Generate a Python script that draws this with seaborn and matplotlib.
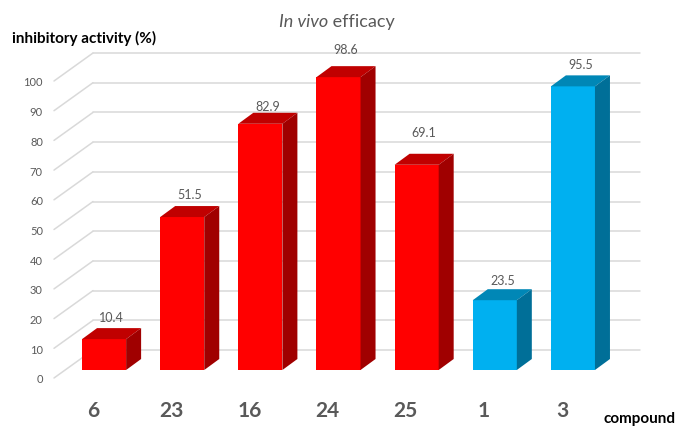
import matplotlib
matplotlib.use("Agg")
import matplotlib.pyplot as plt
import seaborn as sns
import pandas as pd
from matplotlib.patches import Polygon

# Data
compounds = ["6", "23", "16", "24", "25", "1", "3"]
activity = [10.4, 51.5, 82.9, 98.6, 69.1, 23.5, 95.5]
group = ["new", "new", "new", "new", "new", "ref", "ref"]
y_ticks = list(range(0, 101, 10))

# Styling: face colours for the pseudo-3D boxes, value-label lift (pixels)
front_col = {"new": "#FF0000", "ref": "#00B0F0"}
top_col = {"new": "#C00000", "ref": "#0087B6"}
side_col = {"new": "#A00000", "ref": "#006F98"}
label_lift = [11, 12, 7, 17, 22, 9, 11]
grid_col = "#D9D9D9"
text_gray = "#595959"

sns.set_theme(style="white")
plt.rcParams["font.family"] = ["Lato", "DejaVu Sans"]

W, H = 677, 427
fig = plt.figure(figsize=(W / 100, H / 100), dpi=100)
left_px, right_px, base_px, top_px = 54, 601, 379, 82
ax = fig.add_axes([left_px / W, 1 - base_px / H,
                   (right_px - left_px) / W, (base_px - top_px) / H])

df = pd.DataFrame({"compound": compounds, "activity": activity, "group": group})
sns.barplot(data=df, x="compound", y="activity", hue="group", palette=front_col,
            width=0.564, dodge=False, legend=False, saturation=1, ax=ax, zorder=3)

ax.set_xlim(-0.5, 6.5)
ax.set_ylim(0, 100)

# pixel -> data unit conversion for depth offsets
ux = (right_px - left_px) / 7.0
uy = (base_px - top_px) / 100.0

def dx(px):
    return px / ux

def dy(px):
    return px / uy

# depth offsets (pixels): bar front plane, bar depth, back wall
bar_off = (11, 8)
bar_depth = (15, 11)
wall_off = (39, 28)

# floor/wall gridlines
x_l, x_r = -0.5, 6.5
for v in y_ticks:
    ax.plot([x_l, x_l + dx(wall_off[0])], [v, v + dy(wall_off[1])],
            color=grid_col, lw=1.1, clip_on=False, zorder=0)
    ax.plot([x_l + dx(wall_off[0]), x_r + dx(wall_off[0])],
            [v + dy(wall_off[1])] * 2,
            color=grid_col, lw=1.1, clip_on=False, zorder=0)

# turn the flat bars into boxes
for p in list(ax.patches):
    w = p.get_width()
    v = p.get_height()
    if w == 0 or v != v:
        continue
    idx = int(round(p.get_x() + w / 2))
    g = group[idx]
    a = p.get_x() + dx(bar_off[0])
    b = a + w
    y0 = dy(bar_off[1])
    yt = v + y0
    p.set_x(a)
    p.set_y(y0)
    p.set_facecolor(front_col[g])
    p.set_edgecolor("none")
    p.set_clip_on(False)
    ddx, ddy = dx(bar_depth[0]), dy(bar_depth[1])
    ax.add_patch(Polygon([(a, yt), (b, yt), (b + ddx, yt + ddy), (a + ddx, yt + ddy)],
                         closed=True, facecolor=top_col[g], edgecolor="none",
                         zorder=3, clip_on=False))
    ax.add_patch(Polygon([(b, y0), (b, yt), (b + ddx, yt + ddy), (b + ddx, y0 + ddy)],
                         closed=True, facecolor=side_col[g], edgecolor="none",
                         zorder=3, clip_on=False))
    ax.text((a + b) / 2 + ddx / 2, yt + ddy + dy(label_lift[idx]), f"{activity[idx]:.1f}",
            ha="center", va="center", fontsize=9, color=text_gray, zorder=4,
            clip_on=False)

# axes styling
for s in ax.spines.values():
    s.set_visible(False)
ax.set_xlabel("")
ax.set_ylabel("")
ax.set_yticks(y_ticks)
ax.tick_params(axis="y", length=0, pad=8, labelsize=8, labelcolor=text_gray)
ax.set_xticks(range(len(compounds)))
ax.set_xticklabels(compounds, fontsize=15, fontweight="bold", color=text_gray)
ax.tick_params(axis="x", length=0, pad=16)

fig.text(12 / W, 1 - 38 / H, "inhibitory activity (%)", fontsize=11,
         fontweight="bold", color="black", ha="left", va="center")
fig.text(676 / W, 1 - 419 / H, "compound", fontsize=11, fontweight="bold",
         color="black", ha="right", va="center")

t1 = fig.text(279 / W, 1 - 30 / H, "In vivo", fontsize=13, style="italic",
              color=text_gray, ha="left", va="bottom")
ax.annotate(" efficacy", xy=(1, 0), xycoords=t1, fontsize=13, color=text_gray,
            ha="left", va="bottom", annotation_clip=False)

fig.savefig("out.png", dpi=100)
